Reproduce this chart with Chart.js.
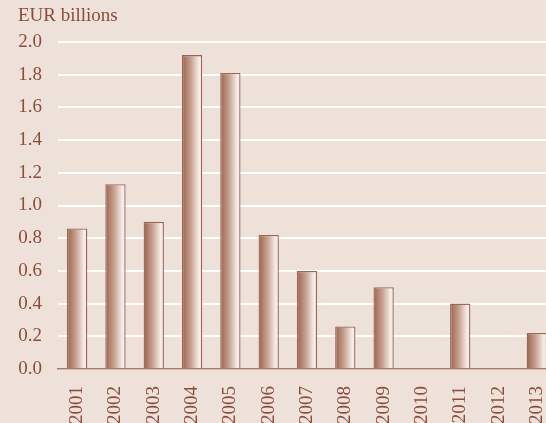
<!DOCTYPE html>
<html>
<head>
<meta charset="utf-8">
<script src="https://cdn.jsdelivr.net/npm/chart.js@4/dist/chart.umd.min.js"></script>
<style>
  html, body { margin: 0; padding: 0; background: #eee1d9; overflow: hidden; }
  #barChart { display: block; }
</style>
</head>
<body>
<canvas id="barChart" width="560" height="423"></canvas>
<script>
const years = ['2001', '2002', '2003', '2004', '2005', '2006', '2007', '2008', '2009', '2010', '2011', '2012', '2013'];
const amounts = [0.86, 1.13, 0.90, 1.92, 1.81, 0.82, 0.60, 0.26, 0.50, 0, 0.40, 0, 0.22];
const yTicks = [0, 0.2, 0.4, 0.6, 0.8, 1.0, 1.2, 1.4, 1.6, 1.8, 2.0];
const unitLabel = 'EUR billions';

const textColor = '#8b4d3b';
const barPct = 0.53;

function barFill(c) {
  const chart = c.chart;
  if (!chart.chartArea || c.dataIndex === undefined) return '#c09888';
  const xs = chart.scales.x;
  const cx = xs.getPixelForValue(c.dataIndex);
  const w = xs.width / years.length * barPct;
  const g = chart.ctx.createLinearGradient(cx - w / 2, 0, cx + w / 2, 0);
  g.addColorStop(0, '#9a624c');
  g.addColorStop(0.45, '#c9a393');
  g.addColorStop(0.85, '#f7efeb');
  g.addColorStop(1, '#eadbd3');
  return g;
}

const unitTitle = {
  id: 'unitTitle',
  afterDraw(chart) {
    const ctx = chart.ctx;
    ctx.save();
    ctx.font = '19px "Liberation Serif", serif';
    ctx.fillStyle = textColor;
    ctx.textBaseline = 'alphabetic';
    ctx.fillText(unitLabel, 18, 21);
    ctx.restore();
  }
};

const ctx = document.getElementById('barChart').getContext('2d');
new Chart(ctx, {
  type: 'bar',
  data: {
    labels: years,
    datasets: [{
      data: amounts,
      backgroundColor: barFill,
      borderColor: '#9c6655',
      borderWidth: 1.3,
      barPercentage: barPct,
      categoryPercentage: 1
    }]
  },
  options: {
    responsive: false,
    animation: false,
    layout: { padding: { top: 42, right: 4, left: 0, bottom: 0 } },
    plugins: { legend: { display: false }, tooltip: { enabled: false } },
    scales: {
      x: {
        grid: { display: false, drawTicks: false },
        border: { display: true, color: '#a57868', width: 1.5 },
        ticks: {
          color: textColor,
          font: { family: '"Liberation Serif", serif', size: 19 },
          minRotation: 90, maxRotation: 90,
          padding: 17,
          autoSkip: false
        },
        afterFit(s) { s.height = 54; s.paddingLeft = 0; s.paddingRight = 0; }
      },
      y: {
        min: 0, max: 2,
        afterBuildTicks(s) { s.ticks = yTicks.map(v => ({ value: v })); },
        grid: { color: '#ffffff', lineWidth: 2, drawTicks: false },
        border: { display: false },
        ticks: {
          color: textColor,
          font: { family: '"Liberation Serif", serif', size: 19 },
          padding: 16,
          callback: v => Number(v).toFixed(1)
        },
        afterFit(s) { s.width = 58; s.paddingTop = 0; s.paddingBottom = 0; }
      }
    }
  },
  plugins: [unitTitle]
});
</script>
</body>
</html>
